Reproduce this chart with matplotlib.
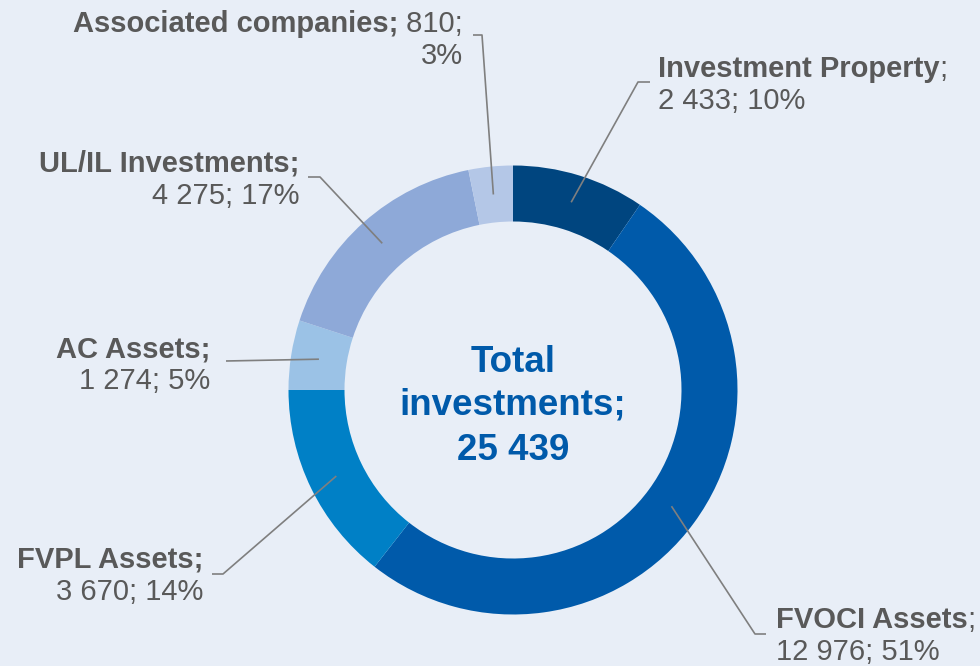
import numpy as np
import matplotlib
matplotlib.use("Agg")
import matplotlib.pyplot as plt

# ---------------- data ----------------
categories = ["Investment Property", "FVOCI Assets", "FVPL Assets",
              "AC Assets", "UL/IL Investments", "Associated companies"]
values = [2433, 12976, 3670, 1274, 4275, 810]
total_label = "25 439"
colors = ["#00457F", "#005AAA", "#0080C6", "#9BC2E6", "#8EA9D8", "#B4C7E7"]

# ---------------- style / layout ----------------
W, H = 980, 666
BG = "#E8EEF7"
TXT = "#595959"
LEAD = "#7F7F7F"
FONT = "Liberation Sans"
FS = 21
CENTER = (513, H - 390)
R_OUT, RING_W = 224.5, 56

plt.rcParams['font.family'] = [FONT, 'DejaVu Sans']

fig = plt.figure(figsize=(W / 100, H / 100), dpi=100, facecolor=BG)
ax = fig.add_axes([0, 0, 1, 1])
ax.set_facecolor(BG)

wedges, _ = ax.pie(values, colors=colors, startangle=90, counterclock=False,
                   radius=R_OUT, center=CENTER,
                   wedgeprops=dict(width=RING_W, linewidth=0))
ax.set_xlim(0, W)
ax.set_ylim(0, H)
ax.axis('off')

renderer = fig.canvas.get_renderer()


def fmt(v):
    return f"{v:,}".replace(",", " ")


def text_width(s, weight):
    t = ax.text(0, 0, s, fontsize=FS, fontweight=weight, family=[FONT, 'DejaVu Sans'])
    w = t.get_window_extent(renderer).width
    t.remove()
    return w


def draw_line(parts, x, y_px, ha):
    """parts: list of (text, weight); x,y in pixel coords (y from top)"""
    y = H - y_px
    widths = [text_width(s, w) for s, w in parts]
    total = sum(widths)
    start = x if ha == "left" else x - total
    cx = start
    for (s, w), wd in zip(parts, widths):
        ax.text(cx, y, s, fontsize=FS, fontweight=w, color=TXT, ha="left",
                va="baseline", family=[FONT, 'DejaVu Sans'])
        cx += wd


total = sum(values)
pcts = [round(v / total * 100) for v in values]

# label layout: x, first baseline (px from top), alignment, leader y, leader end x, elbow x, style
layout = {
    "Investment Property": (658, 77, "left", 82, 650, 638, "semi"),
    "FVOCI Assets": (776, 628, "left", 634, 766, 755, "semi"),
    "FVPL Assets": (203, 568, "right", 574, 212, 223, "bold"),
    "AC Assets": (210, 357, "right", 361, 226, 226, "bold"),
    "UL/IL Investments": (299, 172, "right", 177, 308, 320, "bold"),
    "Associated companies": (463, 32, "right", 35, 473, 482, "assoc"),
}
LINE_GAP = 32

for wdg, cat, v, p in zip(wedges, categories, values, pcts):
    x, b1, ha, ly, ex, elx, style = layout[cat]
    if style == "semi":
        line1 = [(cat, "bold"), (";", "normal")]
        line2 = [(f"{fmt(v)}; {p}%", "normal")]
    elif style == "assoc":
        line1 = [(cat + ";", "bold"), (f" {fmt(v)};", "normal")]
        line2 = [(f"{p}%", "normal")]
    else:
        line1 = [(cat + ";", "bold")]
        line2 = [(f"{fmt(v)}; {p}%", "normal")]
    draw_line(line1, x, b1, ha)
    draw_line(line2, x, b1 + LINE_GAP, ha)

    # leader line to ring middle at the wedge's mid angle
    mid = np.deg2rad((wdg.theta1 + wdg.theta2) / 2)
    rm = R_OUT - RING_W / 2
    axp = CENTER[0] + rm * np.cos(mid)
    ayp = CENTER[1] + rm * np.sin(mid)
    ax.plot([ex, elx, axp], [H - ly, H - ly, ayp], color=LEAD, lw=1.2,
            solid_capstyle="butt", zorder=5)

# center text
CC = "#005AAA"
for txt, yb in [("Total", 372), ("investments;", 415), (total_label, 460)]:
    ax.text(CENTER[0], H - yb, txt, fontsize=26.5, fontweight="bold", color=CC,
            ha="center", va="baseline", family=[FONT, 'DejaVu Sans'])

fig.savefig("out.png", dpi=100, facecolor=BG)
